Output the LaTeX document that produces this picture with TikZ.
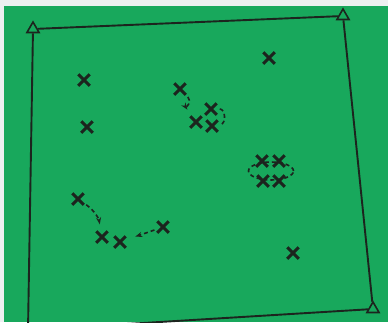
\documentclass[tikz,border=0pt]{standalone}
\usetikzlibrary{shapes.misc,shapes.geometric,arrows.meta}
\definecolor{field}{RGB}{24,168,92}
\definecolor{ink}{RGB}{28,36,30}
\definecolor{paper}{RGB}{236,240,240}
\begin{document}
\begin{tikzpicture}[x=1pt,y=-1pt,
  xmark/.style={cross out,draw=ink,line width=3pt,minimum size=8.5pt,inner sep=0pt},
  corner/.style={regular polygon,regular polygon sides=3,draw=ink,line width=1.6pt,minimum size=14pt,inner sep=0pt},
  frame/.style={draw=ink,line width=1.9pt},
  trail/.style={draw=ink,line width=1.6pt,dash pattern=on 4pt off 3pt},
  tip/.style={-{Stealth[length=7pt,width=5pt]}}]
\useasboundingbox (0,0) rectangle (388,322);
\fill[paper] (0,0) rectangle (388,322);
\fill[field] (4,6) rectangle (388,322);
% corners
\node[corner] (t1) at (33,29) {};
\node[corner] (t2) at (343,16) {};
\node[corner] (t3) at (373,309) {};
\coordinate (bl) at (28,330);
\draw[frame] (t1) -- (t2);
\draw[frame] (t2) -- (t3);
\draw[frame] (t3) -- (bl);
\draw[frame] (bl) -- (t1);
% crosses
\node[xmark] (c1) at (84,80) {};
\node[xmark] (c2) at (269,58) {};
\node[xmark] (c3) at (180,89) {};
\node[xmark] (c4) at (211,109) {};
\node[xmark] (c5) at (196,122) {};
\node[xmark] (c6) at (212,126) {};
\node[xmark] (c7) at (87,127) {};
\node[xmark] (c8) at (262,161) {};
\node[xmark] (c9) at (279,161) {};
\node[xmark] (c10) at (263,181) {};
\node[xmark] (c11) at (279,181) {};
\node[xmark] (c12) at (78,199) {};
\node[xmark] (c13) at (163,227) {};
\node[xmark] (c14) at (102,237) {};
\node[xmark] (c15) at (120,242) {};
\node[xmark] (c16) at (293,253) {};
% group ellipse
\node[ellipse,trail,minimum width=45pt,minimum height=18pt,inner sep=0pt] (e1) at (271,171) {};
% trails
\draw[trail,tip,shorten >=8pt,shorten <=3pt] (c3) to[out=-45,in=125] (c5);
\draw[trail,shorten <=3pt,shorten >=3pt] (c4) to[out=0,in=10,looseness=1.4] (c6);
\draw[trail,tip,shorten >=7pt,shorten <=3pt] (c12) to[out=-35,in=100] (c14);
\draw[trail,tip,shorten >=10pt,shorten <=3pt] (c13) to (c15);
\end{tikzpicture}
\end{document}
